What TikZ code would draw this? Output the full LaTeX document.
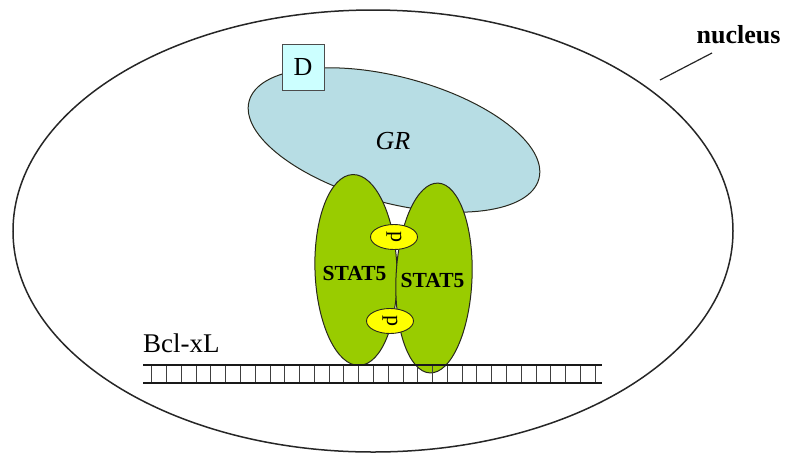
\documentclass[tikz,border=0pt]{standalone}
\usepackage{fontspec}
\setmainfont{Liberation Serif}
\usetikzlibrary{shapes.geometric}
\definecolor{grblue}{RGB}{183,221,228}
\definecolor{dcyan}{RGB}{204,255,255}
\definecolor{statgreen}{RGB}{153,204,0}
\definecolor{pyellow}{RGB}{255,255,0}
\definecolor{edge}{RGB}{40,40,30}
\tikzset{
  oval/.style={ellipse, inner sep=0pt, draw=edge},
  stat/.style={oval, fill=statgreen, line width=1pt, minimum width=80pt, minimum height=190pt},
  pbox/.style={oval, fill=pyellow, line width=0.9pt, minimum width=47pt, minimum height=25pt},
  ptext/.style={font=\fontsize{22}{24}\selectfont, rotate=-90, inner sep=0pt},
  stattext/.style={font=\fontsize{21.5}{24}\selectfont\bfseries, inner sep=0pt},
  dnaline/.style={line width=2.4pt, draw=black!90},
  tick/.style={line width=0.8pt, draw=black!75}
}
\begin{document}
\begin{tikzpicture}[x=1pt, y=-1pt]
\useasboundingbox (0,0) rectangle (787,456);
% nucleus
\node[oval, draw=black!85, line width=1.5pt, minimum width=720pt, minimum height=442pt] (nuc) at (373,231) {};
\node[font=\fontsize{26}{28}\selectfont\bfseries, inner sep=0pt, anchor=base] (nuclab) at (738.5,43) {nucleus};
\coordinate (ptr) at (660,80);
\draw[line width=1.2pt, black!85] (ptr) -- (712,53);
% GR
\node[oval, fill=grblue, line width=1pt, minimum width=300pt, minimum height=126pt, rotate=-15] (gr) at (394,140) {};
\node[font=\fontsize{26}{28}\selectfont\itshape, inner sep=0pt] (grlab) at (393,141) {GR};
% D
\node[draw=black!70, fill=dcyan, line width=0.8pt, minimum width=42pt, minimum height=46pt, inner sep=0pt, font=\fontsize{26}{28}\selectfont] (d) at (303,67) {D};
% STAT5 dimer
\node[stat, minimum width=82pt, minimum height=191pt, rotate=2] (s1) at (356,270) {};
\node[stat, minimum width=76pt, minimum height=190pt, rotate=-2.5] (s2) at (434,278) {};
\node[stattext] (s1lab) at (354.5,273) {STAT5};
\node[stattext] (s2lab) at (432.5,280) {STAT5};
% phosphates
\node[pbox] (p1) at (394,237) {};
\node[ptext] at (p1) {p};
\node[pbox] (p2) at (390,321) {};
\node[ptext] at (p2) {p};
% DNA
\coordinate (dl1) at (143,365);
\coordinate (dr1) at (602,365);
\coordinate (dl2) at (143,383);
\coordinate (dr2) at (602,383);
\foreach \k in {0,...,30} {
  \draw[tick] ({151.7+\k*14.78},365) -- ({151.7+\k*14.78},383);
}
\draw[dnaline] (dl1) -- (dr1);
\draw[dnaline] (dl2) -- (dr2);
\node[font=\fontsize{27}{29}\selectfont, inner sep=0pt, anchor=base west] (bcl) at (143,352.7) {Bcl-xL};
\end{tikzpicture}
\end{document}
